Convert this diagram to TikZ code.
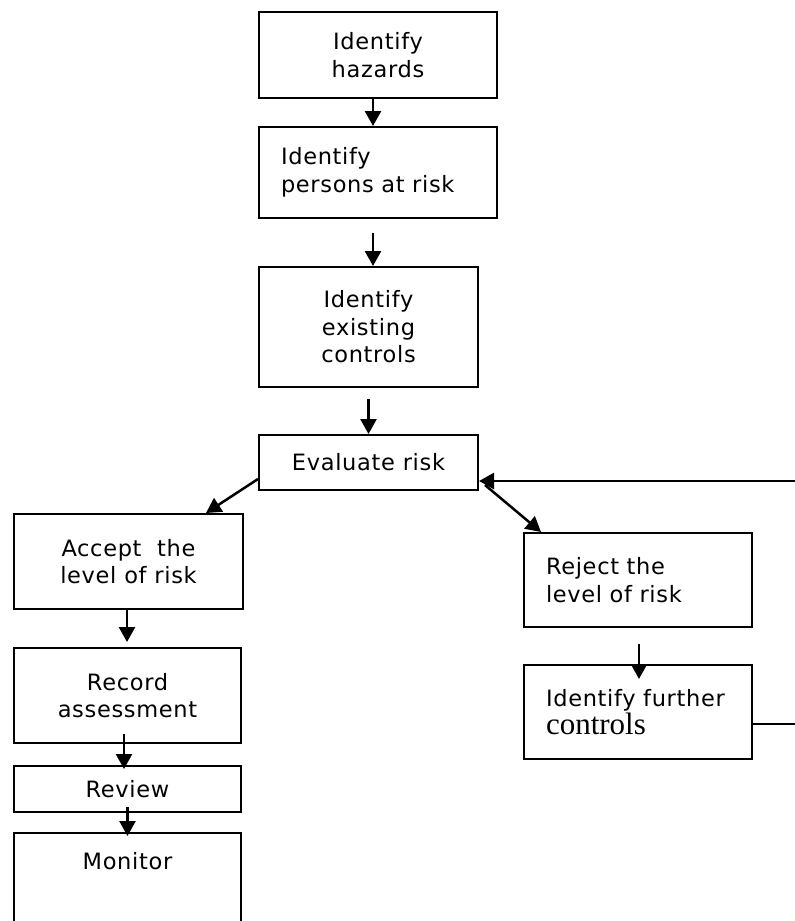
\documentclass[tikz,border=0pt]{standalone}
\usepackage{fontspec}
\setmainfont[LetterSpace=3]{DejaVu Sans}
\newfontfamily\serifctl{Liberation Serif}
\usetikzlibrary{arrows.meta,calc}

\tikzset{
  box/.style={draw, line width=2pt, align=center, inner sep=0pt},
  lbox/.style={box, align=left, inner xsep=22pt},
  link/.style={line width=2.5pt, -{Triangle[length=15pt,width=16pt]}},
}

\begin{document}
\begin{tikzpicture}[x=1pt, y=-1pt, font=\fontsize{22.5}{27.5}\selectfont]
    \useasboundingbox (0,0) rectangle (795,921);
    \clip (0,0) rectangle (795,921);

    % main column
    \node[box, minimum width=238pt, minimum height=86pt] (haz) at (378,55) {Identify\\hazards};
    \node[lbox, text width=194pt, minimum height=91pt] (persons) at (378,172.5) {Identify\\persons at risk};
    \node[box, minimum width=219pt, minimum height=120pt] (existing) at (368.5,327) {Identify\\existing\\controls};
    \node[box, minimum width=219pt, minimum height=55pt] (eval) at (368.5,462.5) {Evaluate risk};

    % accept branch
    \node[box, minimum width=229pt, minimum height=95pt] (accept) at (128.5,561.5) {Accept~~the\\level of risk};
    \node[box, minimum width=227pt, minimum height=95pt] (record) at (127.5,695.5) {Record\\assessment};
    \node[box, minimum width=227pt, minimum height=46pt] (review) at (127.5,789) {Review};
    \node[box, minimum width=227pt, anchor=north, text height=36pt, text depth=120pt] (monitor) at (127.5,832) {Monitor};

    % reject branch
    \node[lbox, text width=184pt, minimum height=94pt] (reject) at (638,580) {Reject the\\level of risk};
    \node[lbox, text width=184pt, minimum height=94pt] (further) at (638,712) {Identify further\\{\serifctl\fontsize{31}{37}\selectfont controls}};

    % arrows
    \draw[link] ($(haz.south)+(-5,0)$) -- ($(persons.north)+(-5,0)$);
    \draw[link] ($(persons.south)+(-5,14)$) -- ($(existing.north)+(4.5,0)$);
    \draw[link] ($(existing.south)+(0,11)$) -- (eval.north);
    \draw[link] ($(eval.south west)+(0,-12)$) -- ($(accept.north east)+(-38,0)$);
    \draw[link] ($(eval.south east)+(6,-6)$) -- ($(reject.north west)+(18,0)$);
    \draw[link] ($(accept.south)+(-1.5,0)$) -- ($(record.north)+(-0.5,-5)$);
    \draw[link] ($(record.south)+(-3.5,-10)$) -- ($(review.north)+(-3.5,4)$);
    \draw[link] ($(review.south)+(0,-6)$) -- ($(monitor.north)+(0,4)$);
    \draw[link] ($(reject.south)+(1,16)$) -- ($(further.north)+(1,15)$);

    % feedback loop
    \coordinate (loopin) at (795,481);
    \coordinate (loopout) at (795,724);
    \draw[link] (loopin) -- (loopin -| eval.east);
    \draw[line width=2.5pt] (further.east |- loopout) -- (loopout);
\end{tikzpicture}
\end{document}
